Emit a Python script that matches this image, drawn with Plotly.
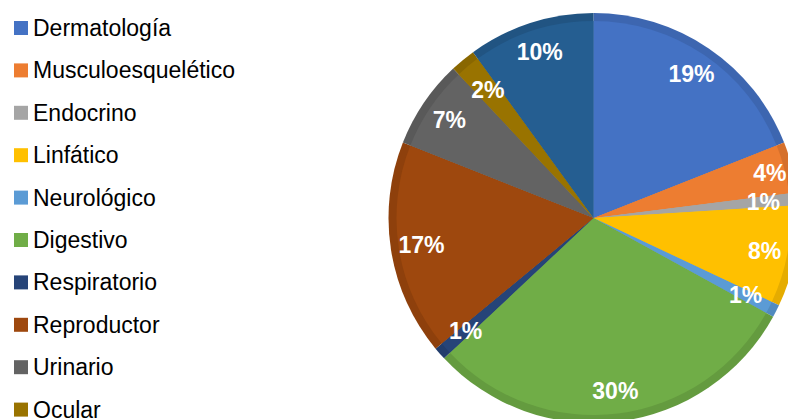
import plotly.graph_objects as go

# Distribución por sistema
categorias = ["Dermatología", "Musculoesquelético", "Endocrino", "Linfático", "Neurológico",
              "Digestivo", "Respiratorio", "Reproductor", "Urinario", "Ocular", "Otros"]
porcentajes = [19, 4, 1, 8, 1, 30, 1, 17, 7, 2, 10]
colores = ["#4472C4", "#ED7D31", "#A5A5A5", "#FFC000", "#5B9BD5", "#70AD47",
           "#264478", "#9E480E", "#636363", "#997300", "#255E91"]

W, H = 800, 424
CX, CY, R = 593.5, 218, 205   # centre and radius of the pie, in pixels
RIM = 8                        # width of the darker outer rim
FUENTE = "Liberation Sans, Arial, sans-serif"


def oscurecer(hex_color, f=0.9):
    h = hex_color.lstrip("#")
    r, g, b = (int(h[i:i + 2], 16) for i in (0, 2, 4))
    return "rgb({},{},{})".format(int(r * f), int(g * f), int(b * f))


def dominio(radio):
    return dict(x=[(CX - radio) / W, (CX + radio) / W],
                y=[1 - (CY + radio) / H, 1 - (CY - radio) / H])


comunes = dict(labels=categorias, values=porcentajes, sort=False,
               direction="clockwise", rotation=0, showlegend=False)
transparente = ["rgba(0,0,0,0)"] * len(categorias)
fuente_etiqueta = dict(family=FUENTE, size=23, color="white", weight="bold")

fig = go.Figure()

# darker full pie (rim) and the lighter slices on top
fig.add_trace(go.Pie(**comunes, domain=dominio(R), textinfo="none", hoverinfo="skip",
                     marker=dict(colors=[oscurecer(c) for c in colores], line=dict(width=0))))
fig.add_trace(go.Pie(**comunes, domain=dominio(R - RIM), textinfo="none",
                     hoverinfo="label+percent",
                     marker=dict(colors=colores, line=dict(width=0))))

# percentage labels: wider slices on a thin ring near the edge, narrow slices on a smaller ring
texto_anchos = ["{}%".format(v) if v >= 4 else "" for v in porcentajes]
texto_estrechos = ["{}%".format(v) if v < 4 else "" for v in porcentajes]
for texto, radio, hueco in ((texto_anchos, R, 0.7), (texto_estrechos, 176, 0.0)):
    fig.add_trace(go.Pie(**comunes, domain=dominio(radio), hole=hueco,
                         text=texto, textinfo="text", textposition="inside",
                         insidetextorientation="horizontal",
                         textfont=fuente_etiqueta, insidetextfont=fuente_etiqueta,
                         hoverinfo="skip",
                         marker=dict(colors=transparente, line=dict(width=0))))

# legend: coloured squares with labels, only the entries that fit in the page
PASO, Y0 = 42.4, 28
for i, (nombre, color) in enumerate(zip(categorias, colores)):
    yc = Y0 + PASO * i
    if yc + 7 > H:
        break
    fig.add_shape(type="rect", xref="paper", yref="paper",
                  x0=14 / W, x1=28 / W, y0=1 - (yc + 7) / H, y1=1 - (yc - 7) / H,
                  fillcolor=color, line=dict(width=0))
    fig.add_annotation(text=nombre, xref="paper", yref="paper",
                       x=31 / W, y=1 - yc / H, xanchor="left", yanchor="middle",
                       showarrow=False, font=dict(family=FUENTE, size=23, color="black"))

fig.update_layout(width=W, height=H, margin=dict(l=0, r=0, t=0, b=0),
                  paper_bgcolor="white", plot_bgcolor="white",
                  uniformtext=dict(minsize=23, mode="show"))

fig.write_html("out.html", post_script=(
    "document.documentElement.style.overflow='hidden';"
    "document.body.style.overflow='hidden';document.body.style.margin='0';"))
